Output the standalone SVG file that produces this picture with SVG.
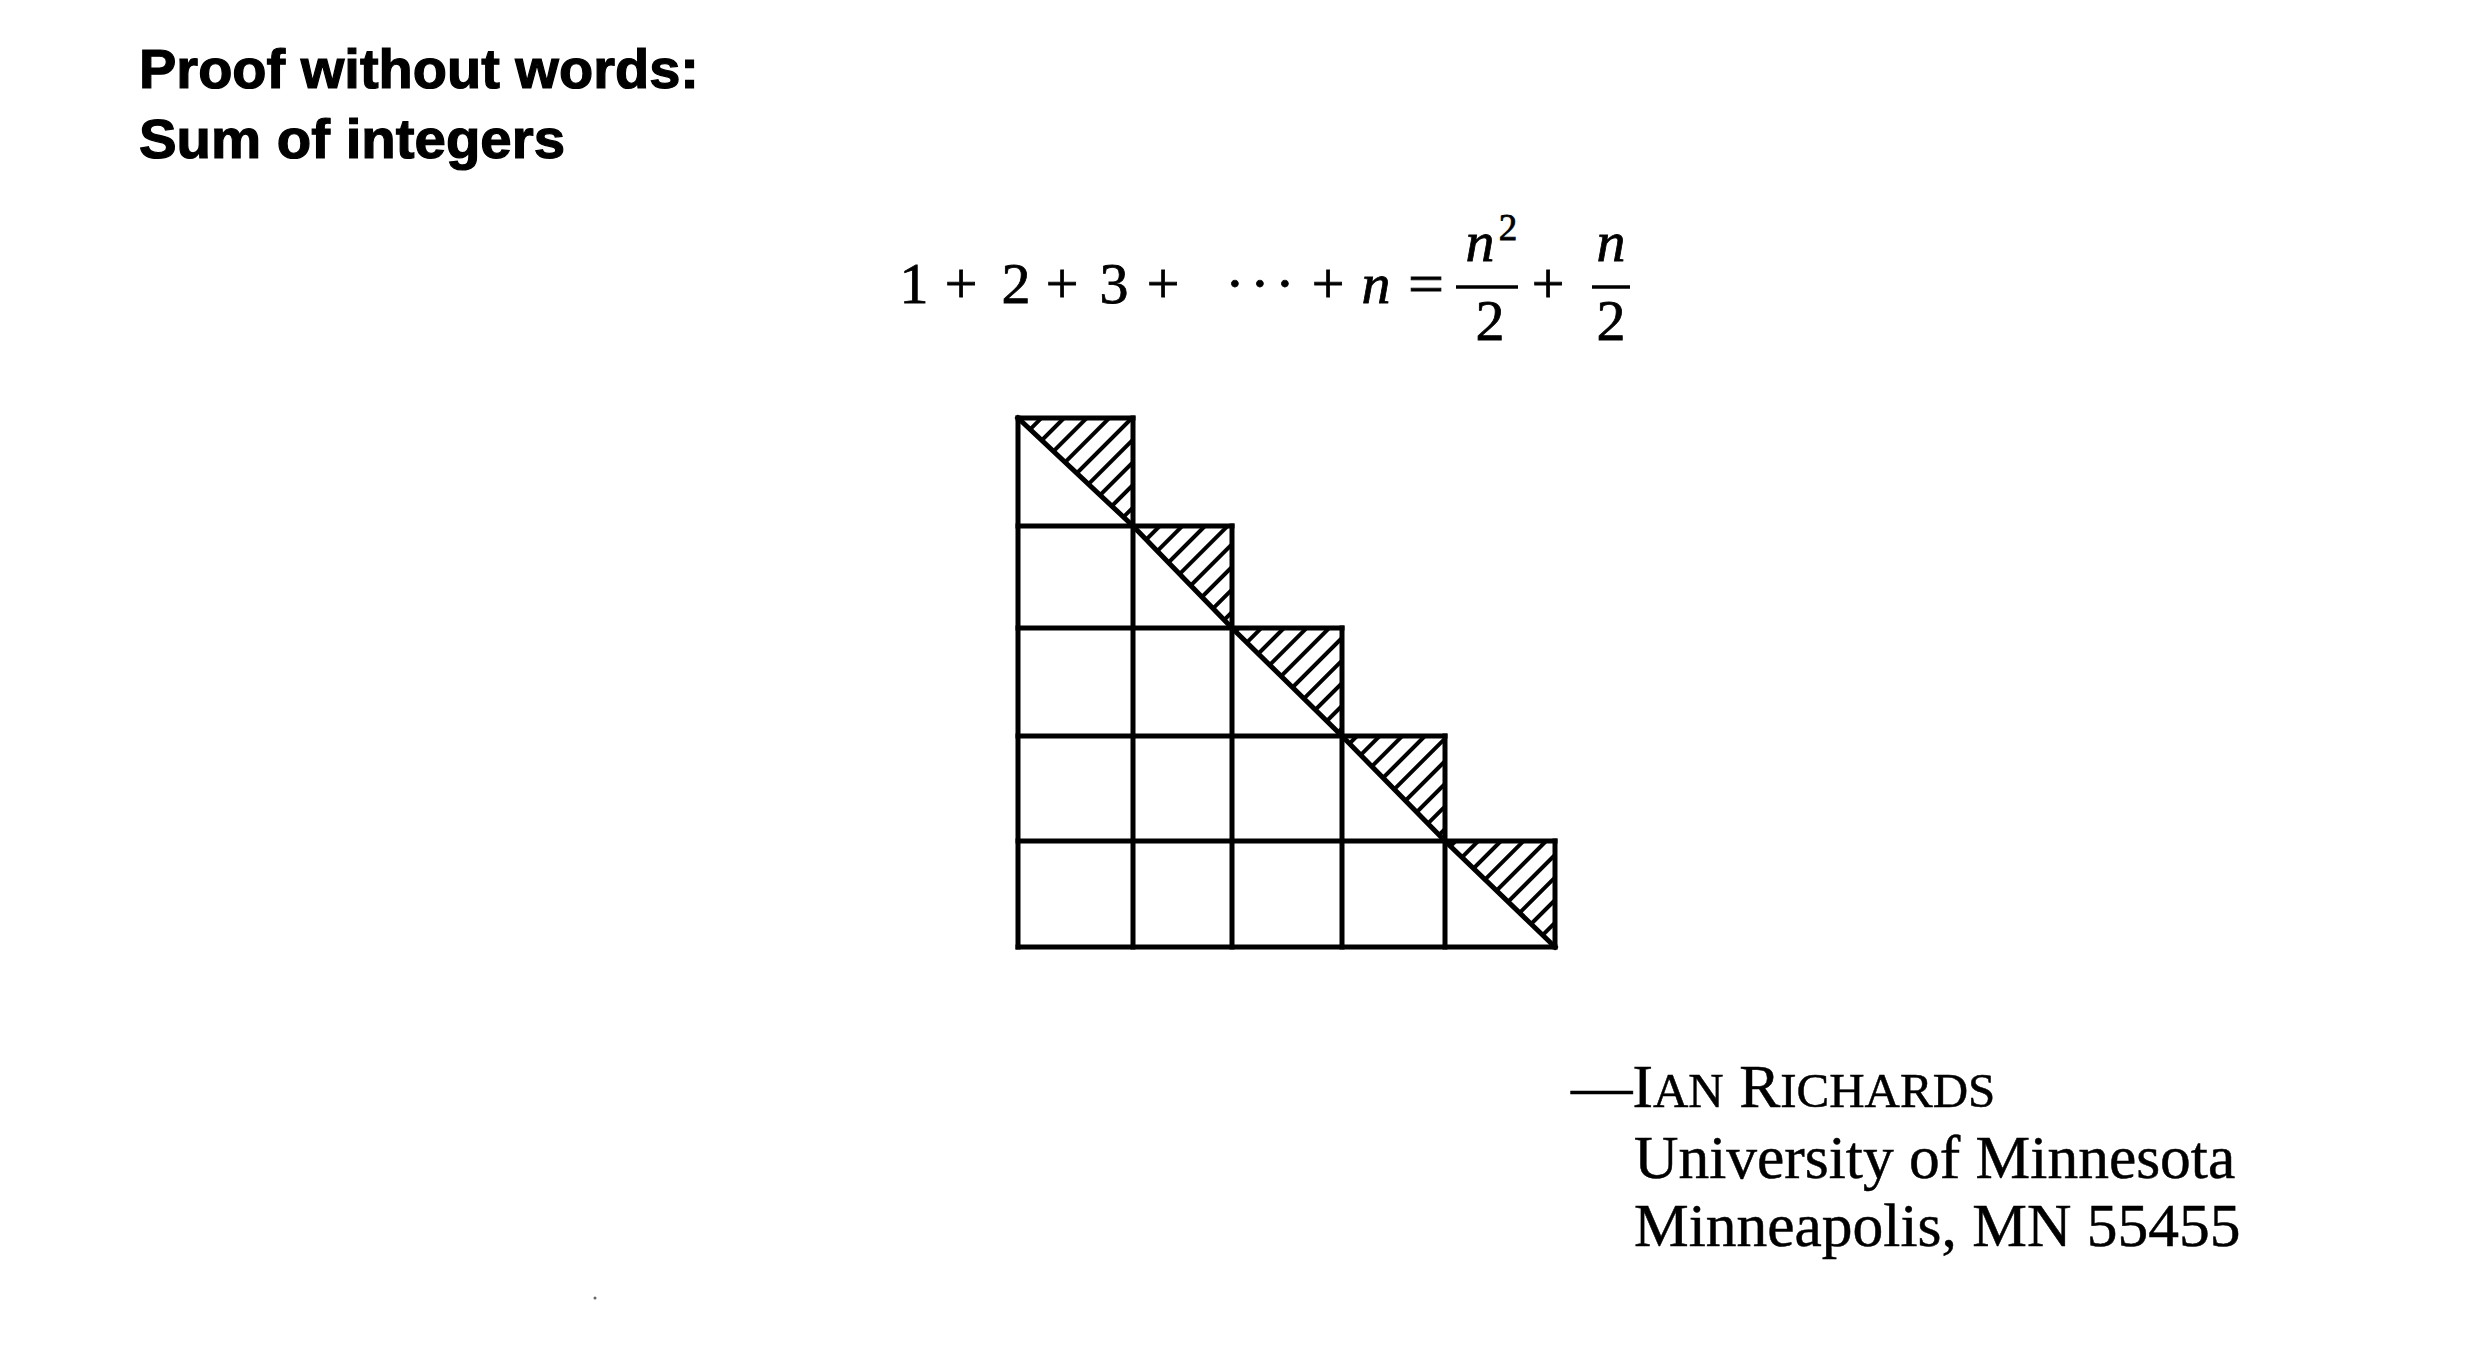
<svg xmlns="http://www.w3.org/2000/svg" width="2476" height="1362" viewBox="0 0 2476 1362">
  <style>
    .title { font-family: "Liberation Sans", Arial, sans-serif; font-weight: bold; font-size: 56px; fill: #000; stroke: #000; stroke-width: 1.2; }
    .math { font-family: "Liberation Serif", "Times New Roman", serif; font-size: 58px; fill: #000; stroke: #000; stroke-width: 0.8; }
    .it { font-style: italic; }
    .sup { font-size: 37px; }
    .auth { font-family: "Liberation Serif", "Times New Roman", serif; font-size: 61.5px; fill: #000; stroke: #000; stroke-width: 0.5; }
    .sc { font-size: 49px; }
    .grid { stroke: #000; stroke-width: 5; fill: none; stroke-linecap: square; stroke-linejoin: miter; }
    .bar { stroke: #000; stroke-width: 3.5; }
    .hatch { fill: url(#hatch); stroke: none; }
  </style>
  <defs>
    <pattern id="hatch" patternUnits="userSpaceOnUse" width="16" height="16" patternTransform="rotate(-45)">
      <line x1="-2" y1="8" x2="18" y2="8" stroke="#000" stroke-width="4"/>
    </pattern>
  </defs>
  <rect width="2476" height="1362" fill="#fff"/>

  <g id="title">
    <text class="title" x="139" y="88">Proof without words:</text>
    <text class="title" x="139" y="158" textLength="426" lengthAdjust="spacingAndGlyphs">Sum of integers</text>
  </g>

  <g id="equation" class="math" text-anchor="middle">
    <text x="914" y="303">1</text>
    <text x="961" y="303">+</text>
    <text x="1016" y="303">2</text>
    <text x="1062" y="303">+</text>
    <text x="1114" y="303">3</text>
    <text x="1163" y="303">+</text>
    <text x="1235 1260 1285" y="303">···</text>
    <text x="1328" y="303">+</text>
    <text x="1376" y="303" class="it">n</text>
    <text x="1426" y="303" textLength="36" lengthAdjust="spacingAndGlyphs">=</text>
    <text x="1480" y="261" class="it">n</text>
    <text x="1508" y="240" class="sup">2</text>
    <line class="bar" x1="1456" y1="287" x2="1518" y2="287"/>
    <text x="1490" y="340">2</text>
    <text x="1548" y="303">+</text>
    <text x="1611" y="261" class="it">n</text>
    <line class="bar" x1="1592" y1="287" x2="1630" y2="287"/>
    <text x="1611" y="340">2</text>
  </g>

  <g id="staircase">
    <g id="hatched-triangles">
      <polygon class="hatch" points="1018,418 1133,418 1133,526"/>
      <polygon class="hatch" points="1133,526 1232,526 1232,628"/>
      <polygon class="hatch" points="1232,628 1342,628 1342,736"/>
      <polygon class="hatch" points="1342,736 1445,736 1445,841"/>
      <polygon class="hatch" points="1445,841 1555,841 1555,947"/>
    </g>
    <g id="grid-lines" class="grid">
      <line x1="1018" y1="418" x2="1133" y2="418"/>
      <line x1="1018" y1="526" x2="1232" y2="526"/>
      <line x1="1018" y1="628" x2="1342" y2="628"/>
      <line x1="1018" y1="736" x2="1445" y2="736"/>
      <line x1="1018" y1="841" x2="1555" y2="841"/>
      <line x1="1018" y1="947" x2="1555" y2="947"/>
      <line x1="1018" y1="418" x2="1018" y2="947"/>
      <line x1="1133" y1="418" x2="1133" y2="947"/>
      <line x1="1232" y1="526" x2="1232" y2="947"/>
      <line x1="1342" y1="628" x2="1342" y2="947"/>
      <line x1="1445" y1="736" x2="1445" y2="947"/>
      <line x1="1555" y1="841" x2="1555" y2="947"/>
      <polyline points="1018,418 1133,526 1232,628 1342,736 1445,841 1555,947"/>
    </g>
  </g>

  <g id="author" class="auth">
    <text x="1571" y="1107">—I<tspan class="sc">AN</tspan> R<tspan class="sc">ICHARDS</tspan></text>
    <text x="1634" y="1178">University of Minnesota</text>
    <text x="1634" y="1246">Minneapolis, MN 55455</text>
  </g>

  <circle cx="595" cy="1298" r="1.5" fill="#666"/>
</svg>
